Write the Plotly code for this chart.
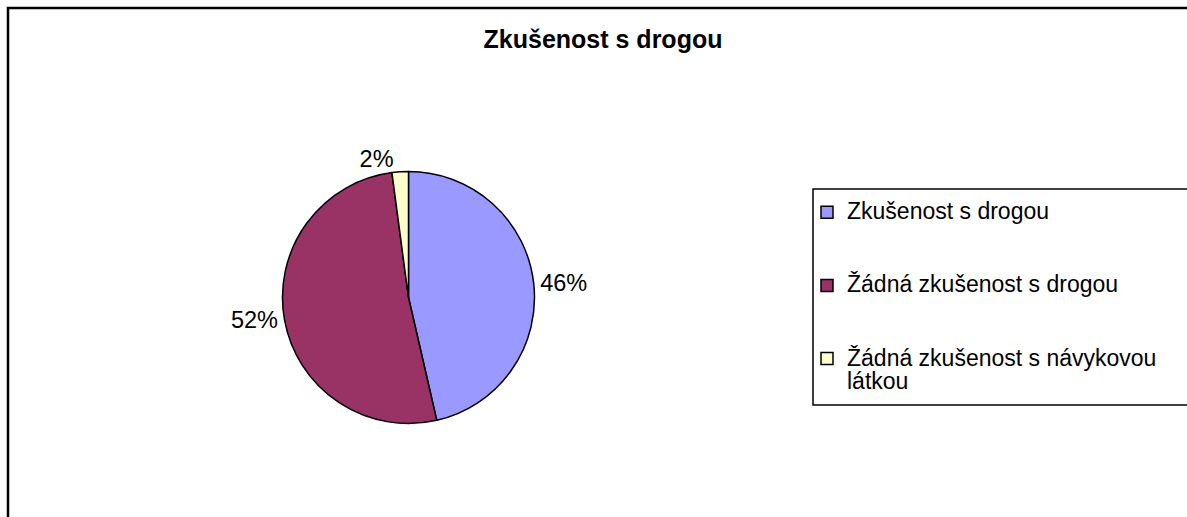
import plotly.graph_objects as go

title_text = "Zkušenost s drogou"
labels = ["Zkušenost s drogou", "Žádná zkušenost s drogou", "Žádná zkušenost s návykovou<br>látkou"]
values = [46.4, 51.5, 2.1]
colors = ["#9999FF", "#993366", "#FFFFCC"]

W, H = 1187, 517
FONT = "Liberation Sans, Arial, sans-serif"

# legend entries: larger visible text, extra blank lines for Excel-like spacing
SPAN = "<span style='font-size:23px'>"
legend_labels = []
for lab in labels:
    n_lines = lab.count("<br>") + 1
    pad = "<br> " * (3 - n_lines) if n_lines < 3 else ""
    legend_labels.append(SPAN + lab.replace("<br>", "</span><br>" + SPAN) + "</span>" + pad)

cx, cy, r = 408.5, 297.5, 126

fig = go.Figure(go.Pie(
    labels=legend_labels,
    values=values,
    marker=dict(colors=colors, line=dict(color="black", width=1.5)),
    sort=False,
    direction="clockwise",
    rotation=0,
    textposition="outside",
    texttemplate="%{percent:.0%}",
    textfont=dict(family=FONT, size=23.5, color="black"),
    hoverinfo="percent",
    domain=dict(x=[(cx - r) / W, (cx + r) / W], y=[(H - cy - r) / H, (H - cy + r) / H]),
))

fig.update_layout(
    width=W, height=H,
    margin=dict(l=0, r=0, t=0, b=0),
    paper_bgcolor="white",
    plot_bgcolor="white",
    font=dict(family=FONT, color="black"),
    title=dict(text="<b>" + title_text + "</b>", x=603 / W, xanchor="center",
               y=1 - 39.5 / H, yanchor="middle", yref="container",
               font=dict(family=FONT, size=25, color="black")),
    showlegend=True,
    legend=dict(x=807 / W, xanchor="left", y=1 - 194 / H, yanchor="top",
                font=dict(family=FONT, size=18, color="black"),
                valign="top", bgcolor="rgba(0,0,0,0)", borderwidth=0),
    shapes=[
        dict(type="rect", xref="paper", yref="paper",
             x0=8 / W, x1=1.05, y0=-0.05, y1=1 - 8 / H,
             line=dict(color="black", width=2.5)),
        dict(type="rect", xref="paper", yref="paper",
             x0=813 / W, x1=1.05, y0=1 - 405 / H, y1=1 - 189 / H,
             line=dict(color="black", width=1.5)),
    ],
)

fig.write_html("out.html",
               config={"displayModeBar": False},
               post_script="document.body.style.margin='0px';document.body.style.overflow='hidden';")
